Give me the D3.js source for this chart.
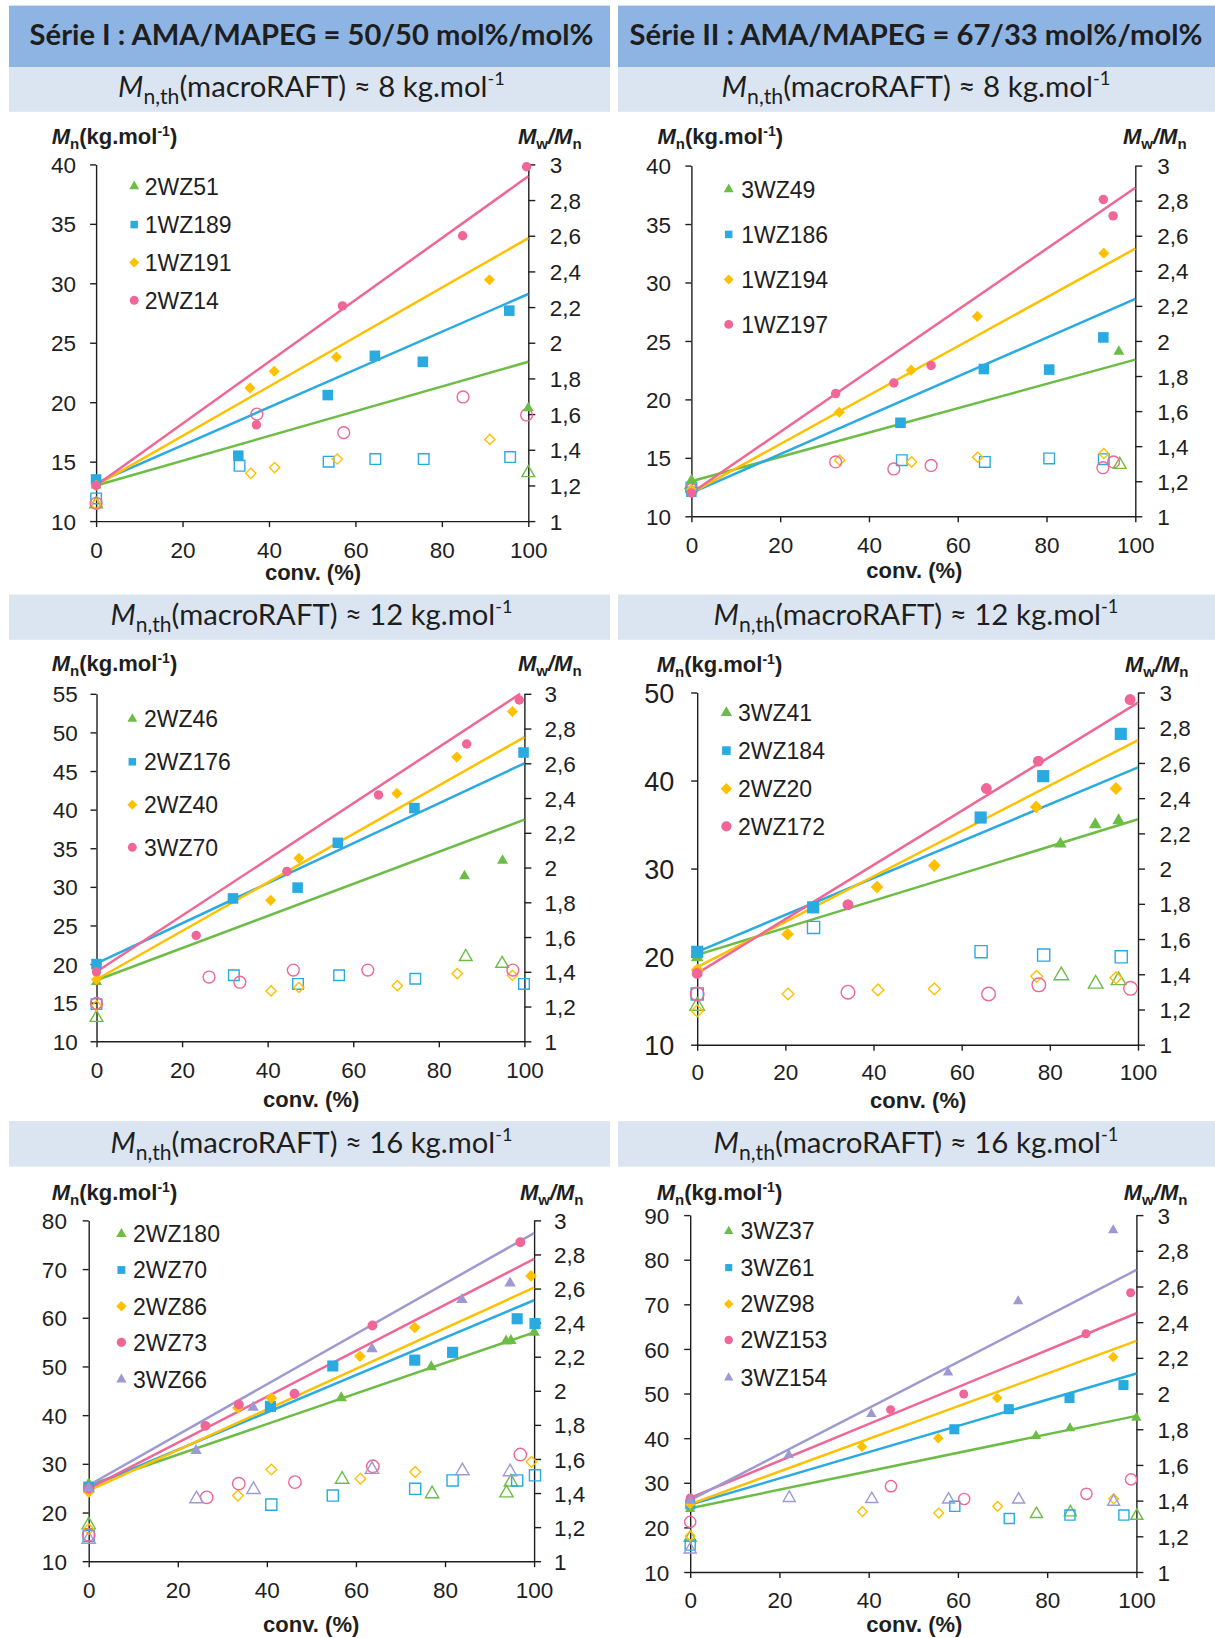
<!DOCTYPE html>
<html><head><meta charset="utf-8">
<script src="https://cdn.jsdelivr.net/npm/d3@7"></script>
<style>body{margin:0;background:#fff}svg{display:block}</style>
</head><body>
<svg id="c" width="1215" height="1638"></svg>
<script>
// ===== DATA =====
const xTicks = [0, 20, 40, 60, 80, 100];
const pdiTicks = [1, 1.2, 1.4, 1.6, 1.8, 2, 2.2, 2.4, 2.6, 2.8, 3];
const seriesHeaders = ["Série I : AMA/MAPEG = 50/50 mol%/mol%", "Série II : AMA/MAPEG = 67/33 mol%/mol%"];
const macroRaftMasses = ["8", "12", "16"];

// Panel A : Série I, 8 kg/mol
const a_2WZ51_Mn = [[0,13.0],[100,19.5]];
const a_2WZ51_D  = [[0,1.095],[100,1.27]];
const a_2WZ51_th = [[0,13.0],[100,23.4]];
const a_1WZ189_Mn = [[0,13.5],[32.9,15.5],[53.6,20.6],[64.5,23.9],[75.6,23.4],[95.6,27.7]];
const a_1WZ189_D  = [[0,1.127],[33.2,1.31],[53.8,1.333],[64.6,1.348],[75.8,1.348],[95.8,1.359]];
const a_1WZ189_th = [[0,13.2],[100,29.1]];
const a_1WZ191_Mn = [[0,13.0],[35.6,21.2],[41.2,22.6],[55.6,23.8],[91.0,30.3]];
const a_1WZ191_D  = [[0,1.095],[35.8,1.268],[41.3,1.30],[55.8,1.348],[91.1,1.458]];
const a_1WZ191_th = [[0,13.0],[100,33.8]];
const a_2WZ14_Mn = [[0,13.0],[37.1,18.1],[57.0,28.1],[84.8,34.0],[99.6,39.8]];
const a_2WZ14_D  = [[0,1.10],[37.2,1.60],[57.3,1.496],[84.9,1.696],[99.6,1.595]];
const a_2WZ14_th = [[0,13.0],[100,39.0]];

// Panel B : Série II, 8 kg/mol
const b_3WZ49_Mn = [[0,13.1],[96.3,24.1]];
const b_3WZ49_D  = [[0,1.18],[96.5,1.294]];
const b_3WZ49_th = [[0,13.0],[100,23.4]];
const b_1WZ186_Mn = [[0,12.1],[47.1,18.0],[65.9,22.6],[80.6,22.55],[92.8,25.3]];
const b_1WZ186_D  = [[0,1.165],[47.4,1.32],[66.1,1.31],[80.6,1.33],[92.9,1.326]];
const b_1WZ186_th = [[0,12.0],[100,28.6]];
const b_1WZ194_Mn = [[0,12.3],[33.3,18.9],[49.5,22.5],[64.4,27.1],[92.9,32.5]];
const b_1WZ194_D  = [[0,1.17],[33.4,1.32],[49.6,1.31],[64.5,1.337],[92.9,1.358]];
const b_1WZ194_th = [[0,12.0],[100,32.9]];
const b_1WZ197_Mn = [[0,12.0],[32.5,20.5],[45.6,21.4],[54.0,22.9],[92.8,37.1],[95.0,35.7]];
const b_1WZ197_D  = [[0,1.155],[32.5,1.31],[45.6,1.27],[54.0,1.29],[92.7,1.277],[95.1,1.31]];
const b_1WZ197_th = [[0,12.0],[100,38.1]];

// Panel C : Série I, 12 kg/mol
const c_2WZ46_Mn = [[0,17.7],[86.0,31.4],[94.9,33.4]];
const c_2WZ46_D  = [[0,1.136],[86.3,1.486],[94.8,1.447]];
const c_2WZ46_th = [[0,17.9],[100,38.7]];
const c_2WZ176_Mn = [[0,20.0],[31.9,28.5],[47.0,29.9],[56.4,35.7],[74.3,40.2],[99.8,47.4]];
const c_2WZ176_D  = [[0,1.214],[32.1,1.38],[47.1,1.33],[56.7,1.38],[74.5,1.36],[99.9,1.33]];
const c_2WZ176_th = [[0,20.1],[100,46.0]];
const c_2WZ40_Mn = [[0,18.0],[40.7,28.25],[47.3,33.7],[70.2,42.1],[84.2,46.8],[97.2,52.7]];
const c_2WZ40_D  = [[0,1.204],[40.8,1.29],[47.3,1.31],[70.3,1.32],[84.3,1.39],[97.2,1.38]];
const c_2WZ40_th = [[0,18.0],[100,49.4]];
const c_3WZ70_Mn = [[0,19.0],[23.3,23.7],[44.5,32.0],[65.9,41.9],[86.5,48.5],[98.8,54.2]];
const c_3WZ70_D  = [[0,1.218],[26.3,1.37],[33.5,1.34],[46.0,1.41],[63.4,1.41],[97.3,1.41]];
const c_3WZ70_th = [[0,19.0],[99,55.0]];

// Panel D : Série II, 12 kg/mol
const d_3WZ41_Mn = [[0,19.9],[82.4,32.8],[90.3,35.0],[95.6,35.45]];
const d_3WZ41_D  = [[0,1.22],[82.6,1.393],[90.4,1.345],[95.6,1.365]];
const d_3WZ41_th = [[0,20.2],[100,35.6]];
const d_2WZ184_Mn = [[0,20.55],[26.3,25.6],[64.3,35.8],[78.5,40.5],[96.1,45.3]];
const d_2WZ184_D  = [[0,1.288],[26.4,1.666],[64.4,1.528],[78.6,1.509],[96.2,1.499]];
const d_2WZ184_th = [[0,20.55],[100,41.5]];
const d_2WZ20_Mn = [[0,18.5],[20.5,22.55],[40.8,27.9],[53.8,30.35],[76.9,37.0],[95.0,39.1]];
const d_2WZ20_D  = [[0,1.192],[20.6,1.288],[41.0,1.311],[53.8,1.317],[77.0,1.388],[95.0,1.38]];
const d_2WZ20_th = [[0,18.8],[100,44.6]];
const d_2WZ172_Mn = [[0,18.1],[34.2,25.9],[65.6,39.1],[77.4,42.2],[98.2,49.2]];
const d_2WZ172_D  = [[0,1.288],[34.2,1.298],[66.1,1.288],[77.5,1.34],[98.3,1.32]];
const d_2WZ172_th = [[0,18.1],[100,48.85]];

// Panel E : Série I, 16 kg/mol
const e_2WZ180_Mn = [[0,25.9],[56.7,43.55],[76.9,49.9],[93.7,55.2],[94.8,55.3],[100,57.0]];
const e_2WZ180_D  = [[0,1.213],[56.9,1.48],[77.1,1.395],[93.8,1.40],[94.8,1.464]];
const e_2WZ180_th = [[0,25.6],[100,57.0]];
const e_2WZ70_Mn = [[0,25.2],[40.8,41.8],[54.8,50.1],[73.2,51.3],[81.7,52.9],[96.2,59.8],[100.2,58.8]];
const e_2WZ70_D  = [[0,1.148],[41.0,1.332],[54.8,1.385],[73.3,1.425],[81.7,1.474],[96.2,1.474],[100.2,1.504]];
const e_2WZ70_th = [[0,25.2],[100,63.6]];
const e_2WZ86_Mn = [[0,24.2],[33.5,41.5],[41.0,43.5],[60.9,52.1],[73.2,58.0],[99.3,68.6]];
const e_2WZ86_D  = [[0,1.188],[33.5,1.385],[41.0,1.538],[61.0,1.484],[73.3,1.524],[99.4,1.583]];
const e_2WZ86_th = [[0,24.5],[100,66.2]];
const e_2WZ73_Mn = [[0,24.9],[26.2,37.8],[33.7,42.2],[46.2,44.4],[63.7,58.4],[96.9,75.5]];
const e_2WZ73_D  = [[0,1.154],[26.5,1.375],[33.7,1.455],[46.3,1.464],[63.8,1.557],[96.9,1.626]];
const e_2WZ73_th = [[0,24.9],[100,72.1]];
const e_3WZ66_Mn = [[0,24.9],[24.1,32.7],[36.9,41.6],[63.6,53.6],[83.8,63.7],[94.6,67.1]];
const e_3WZ66_D  = [[0,1.128],[24.2,1.366],[37.0,1.42],[63.6,1.538],[83.9,1.53],[94.6,1.524]];
const e_3WZ66_th = [[0,25.6],[100,77.4]];

// Panel F : Série II, 16 kg/mol
const f_3WZ37_Mn = [[0,24.1],[77.5,40.5],[85.1,42.2],[100,44.6]];
const f_3WZ37_D  = [[0,1.192],[77.6,1.325],[85.2,1.334],[100.1,1.315]];
const f_3WZ37_th = [[0,24.3],[100,45.0]];
const f_3WZ61_Mn = [[0,25.2],[59.2,42.0],[71.4,46.5],[85.0,49.0],[97.1,51.9]];
const f_3WZ61_D  = [[0,1.151],[59.3,1.368],[71.5,1.30],[85.1,1.319],[97.2,1.319]];
const f_3WZ61_th = [[0,25.1],[100,54.5]];
const f_2WZ98_Mn = [[0,25.2],[38.5,38.1],[55.6,40.0],[68.8,49.0],[94.8,58.2]];
const f_2WZ98_D  = [[0,1.202],[38.6,1.338],[55.7,1.33],[68.9,1.368],[94.9,1.41]];
const f_2WZ98_th = [[0,25.2],[100,61.8]];
const f_2WZ153_Mn = [[0,26.6],[44.9,46.4],[61.3,49.9],[88.7,63.4],[98.7,72.6]];
const f_2WZ153_D  = [[0,1.281],[45.0,1.481],[61.4,1.409],[88.8,1.438],[98.8,1.519]];
const f_2WZ153_th = [[0,26.6],[100,68.0]];
const f_3WZ154_Mn = [[0,26.0],[22.1,36.2],[40.6,45.4],[57.8,54.7],[73.5,70.7],[94.8,86.6]];
const f_3WZ154_D  = [[0,1.126],[22.2,1.415],[40.7,1.409],[57.9,1.406],[73.6,1.406],[94.9,1.394]];
const f_3WZ154_th = [[0,26.1],[100,77.7]];

// Y ranges for Mn axes [min, max, step]
const yA = [10, 40, 5], yB = [10, 40, 5], yC = [10, 55, 5], yD = [10, 50, 10], yE = [10, 80, 10], yF = [10, 90, 10];

// ===== STYLE / LAYOUT =====
const COL = {green:"#6cbd45", blue:"#29abe2", yellow:"#ffc000", pink:"#ef6697", purple:"#9d9ad3"};
const FONT = "'Liberation Sans', Arial, sans-serif";
const HFONT = "Lato, 'Open Sans', sans-serif";
const TXT = "#1e1e1e";

const panels = [
 {ys:yA, L:{x0:96.1,x1:528.3,yt:164.4,yb:521.1, leg:[134.2,144.7,[186.3,224.6,262.6,300.3]], mnX:51.7, lblY:144, mwR:581.6, convX:313, convY:579.5, xlY:557.6, ylEnd:76, yrOff:21.4, yfs:22.5, ms:1},
  series:[
   {n:"2WZ51", c:"green", s:"tri", mn:a_2WZ51_Mn, d:a_2WZ51_D, th:a_2WZ51_th},
   {n:"1WZ189", c:"blue", s:"sq", mn:a_1WZ189_Mn, d:a_1WZ189_D, th:a_1WZ189_th},
   {n:"1WZ191", c:"yellow", s:"dia", mn:a_1WZ191_Mn, d:a_1WZ191_D, th:a_1WZ191_th},
   {n:"2WZ14", c:"pink", s:"cir", mn:a_2WZ14_Mn, d:a_2WZ14_D, th:a_2WZ14_th}]},
 {ys:yB, L:{x0:691.4,x1:1135.3,yt:165.6,yb:516.3, leg:[728.7,741.2,[189.3,234.4,279.6,324.4]], mnX:657.5, lblY:144, mwR:1186.6, convX:914.3, convY:577.6, xlY:553, ylEnd:671, yrOff:22, yfs:22.5, ms:1},
  series:[
   {n:"3WZ49", c:"green", s:"tri", mn:b_3WZ49_Mn, d:b_3WZ49_D, th:b_3WZ49_th},
   {n:"1WZ186", c:"blue", s:"sq", mn:b_1WZ186_Mn, d:b_1WZ186_D, th:b_1WZ186_th},
   {n:"1WZ194", c:"yellow", s:"dia", mn:b_1WZ194_Mn, d:b_1WZ194_D, th:b_1WZ194_th},
   {n:"1WZ197", c:"pink", s:"cir", mn:b_1WZ197_Mn, d:b_1WZ197_D, th:b_1WZ197_th}]},
 {ys:yC, L:{x0:96.5,x1:524.4,yt:693.8,yb:1041.3, leg:[132.3,143.9,[718.9,761.8,804.7,847.3]], mnX:51.7, lblY:671.2, mwR:581.6, convX:311.2, convY:1107.2, xlY:1077.8, ylEnd:77.8, yrOff:20, yfs:22.5, ms:1},
  series:[
   {n:"2WZ46", c:"green", s:"tri", mn:c_2WZ46_Mn, d:c_2WZ46_D, th:c_2WZ46_th},
   {n:"2WZ176", c:"blue", s:"sq", mn:c_2WZ176_Mn, d:c_2WZ176_D, th:c_2WZ176_th},
   {n:"2WZ40", c:"yellow", s:"dia", mn:c_2WZ40_Mn, d:c_2WZ40_D, th:c_2WZ40_th},
   {n:"3WZ70", c:"pink", s:"cir", mn:c_3WZ70_Mn, d:c_3WZ70_D, th:c_3WZ70_th}]},
 {ys:yD, L:{x0:697.2,x1:1138,yt:692.5,yb:1044.7, leg:[726.4,738,[712.8,750.6,788.8,826.3]], mnX:656.7, lblY:672.2, mwR:1188.5, convX:918.2, convY:1108.2, xlY:1080.2, ylEnd:674.2, yrOff:21.4, yfs:27, ms:1.15},
  series:[
   {n:"3WZ41", c:"green", s:"tri", mn:d_3WZ41_Mn, d:d_3WZ41_D, th:d_3WZ41_th},
   {n:"2WZ184", c:"blue", s:"sq", mn:d_2WZ184_Mn, d:d_2WZ184_D, th:d_2WZ184_th},
   {n:"2WZ20", c:"yellow", s:"dia", mn:d_2WZ20_Mn, d:d_2WZ20_D, th:d_2WZ20_th},
   {n:"2WZ172", c:"pink", s:"cir", mn:d_2WZ172_Mn, d:d_2WZ172_D, th:d_2WZ172_th}]},
 {ys:yE, L:{x0:88.7,x1:534.1,yt:1220.4,yb:1561.2, leg:[121.4,133,[1233.9,1270,1306.3,1342.3,1379.4]], mnX:51.7, lblY:1200.2, mwR:583.5, convX:311.2, convY:1631.5, xlY:1598.3, ylEnd:66.9, yrOff:20, yfs:22.5, ms:1.05},
  series:[
   {n:"2WZ180", c:"green", s:"tri", mn:e_2WZ180_Mn, d:e_2WZ180_D, th:e_2WZ180_th},
   {n:"2WZ70", c:"blue", s:"sq", mn:e_2WZ70_Mn, d:e_2WZ70_D, th:e_2WZ70_th},
   {n:"2WZ86", c:"yellow", s:"dia", mn:e_2WZ86_Mn, d:e_2WZ86_D, th:e_2WZ86_th},
   {n:"2WZ73", c:"pink", s:"cir", mn:e_2WZ73_Mn, d:e_2WZ73_D, th:e_2WZ73_th},
   {n:"3WZ66", c:"purple", s:"tri", mn:e_3WZ66_Mn, d:e_3WZ66_D, th:e_3WZ66_th}]},
 {ys:yF, L:{x0:690.2,x1:1136.4,yt:1215.1,yb:1572, leg:[728.7,740.4,[1231.2,1267.6,1304,1340,1377.7]], mnX:656.7, lblY:1200, mwR:1187.4, convX:914.3, convY:1631.5, xlY:1608.4, ylEnd:669.2, yrOff:21, yfs:22.5, ms:0.95},
  series:[
   {n:"3WZ37", c:"green", s:"tri", mn:f_3WZ37_Mn, d:f_3WZ37_D, th:f_3WZ37_th},
   {n:"3WZ61", c:"blue", s:"sq", mn:f_3WZ61_Mn, d:f_3WZ61_D, th:f_3WZ61_th},
   {n:"2WZ98", c:"yellow", s:"dia", mn:f_2WZ98_Mn, d:f_2WZ98_D, th:f_2WZ98_th},
   {n:"2WZ153", c:"pink", s:"cir", mn:f_2WZ153_Mn, d:f_2WZ153_D, th:f_2WZ153_th},
   {n:"3WZ154", c:"purple", s:"tri", mn:f_3WZ154_Mn, d:f_3WZ154_D, th:f_3WZ154_th}]}
];

const svg = d3.select("#c");

// Diamond symbol (square rotated 45°)
const symDiamond = {draw(ctx, size){ const r = Math.sqrt(size/2); ctx.moveTo(0,-r); ctx.lineTo(r,0); ctx.lineTo(0,r); ctx.lineTo(-r,0); ctx.closePath(); }};
const symType = {tri: d3.symbolTriangle, sq: d3.symbolSquare, dia: symDiamond, cir: d3.symbolCircle};
const filledSize = {tri: 52, sq: 112, dia: 62, cir: 70};
const hollowSize = {tri: 70, sq: 112, dia: 52, cir: 110};
const legendSize = {tri: 42, sq: 56, dia: 50, cir: 62};

function fitText(sel, w){
  const bw = sel.node().getBBox().width;
  const fs = parseFloat(sel.attr("font-size"));
  sel.attr("font-size", fs * w / bw);
}

// ===== HEADERS =====
const colBox = [[9, 601, 311.5, 564], [618, 597, 916, 573]];
seriesHeaders.forEach((t, i) => {
  const [bx, bw, cx, tw] = colBox[i];
  svg.append("rect").attr("x", bx).attr("y", 5.6).attr("width", bw).attr("height", 61.4).attr("fill", "#8eb4e3");
  const tx = svg.append("text").attr("x", cx).attr("y", 45).attr("text-anchor", "middle")
    .attr("font-family", HFONT).attr("font-weight", 700).attr("font-size", 30).attr("fill", TXT).text(t);
  fitText(tx, tw);
});
const subRows = [[67, 44.8, 97, [387, 389]], [594.5, 45.3, 624.5, [402, 405]], [1121.1, 45.5, 1152.5, [402, 405]]];
macroRaftMasses.forEach((m, r) => {
  const [by, bh, base, widths] = subRows[r];
  colBox.forEach(([bx, bw, cx], ci) => {
    svg.append("rect").attr("x", bx).attr("y", by).attr("width", bw).attr("height", bh).attr("fill", "#dbe5f1");
    const t = svg.append("text").attr("x", cx).attr("y", base).attr("text-anchor", "middle")
      .attr("font-family", HFONT).attr("font-size", 28).attr("fill", TXT);
    t.append("tspan").attr("font-style", "italic").text("M");
    t.append("tspan").attr("font-size", "0.72em").attr("dy", "0.35em").text("n,th");
    t.append("tspan").attr("dy", "-0.25em").text(`(macroRAFT) ≈ ${m} kg.mol`);
    t.append("tspan").attr("font-size", "0.62em").attr("dy", "-0.65em").text("-1");
    fitText(t, widths[ci]);
  });
});

// ===== PANELS =====
const fmtPdi = d => (Math.abs(d - Math.round(d)) < 1e-9 ? String(Math.round(d)) : d.toFixed(1).replace(".", ","));

panels.forEach(p => {
  const L = p.L;
  const [ymin, ymax, ystep] = p.ys;
  const x = d3.scaleLinear().domain([0, 100]).range([L.x0, L.x1]);
  const y = d3.scaleLinear().domain([ymin, ymax]).range([L.yb, L.yt]);
  const y2 = d3.scaleLinear().domain([1, 3]).range([L.yb, L.yt]);
  const g = svg.append("g");

  const styleAxis = a => {
    a.select(".domain").attr("stroke", TXT).attr("stroke-width", 1.4);
    a.selectAll(".tick line").attr("stroke", TXT).attr("stroke-width", 1.4);
    a.selectAll("text").attr("font-family", FONT).attr("fill", TXT);
  };
  const gx = g.append("g").attr("transform", `translate(0,${L.yb})`)
    .call(d3.axisBottom(x).tickValues(xTicks).tickSize(6).tickSizeOuter(0).tickFormat(d3.format("d")));
  styleAxis(gx);
  gx.selectAll("text").attr("font-size", 22.5).attr("y", L.xlY - L.yb).attr("dy", 0);

  const gy = g.append("g").attr("transform", `translate(${L.x0},0)`)
    .call(d3.axisLeft(y).tickValues(d3.range(ymin, ymax + 0.001, ystep)).tickSize(6).tickSizeOuter(0));
  styleAxis(gy);
  gy.selectAll("text").attr("font-size", L.yfs).attr("x", L.ylEnd - L.x0).attr("dy", "0.36em");

  const gy2 = g.append("g").attr("transform", `translate(${L.x1},0)`)
    .call(d3.axisRight(y2).tickValues(pdiTicks).tickSize(7).tickSizeOuter(0).tickFormat(fmtPdi));
  styleAxis(gy2);
  gy2.selectAll("text").attr("font-size", 22.5).attr("x", L.yrOff).attr("dy", "0.36em");

  // axis titles
  const t1 = g.append("text").attr("x", L.mnX).attr("y", L.lblY).attr("font-family", FONT)
    .attr("font-weight", 700).attr("font-size", 22).attr("fill", TXT);
  t1.append("tspan").attr("font-style", "italic").text("M");
  t1.append("tspan").attr("font-size", 15).attr("dy", 5).text("n");
  t1.append("tspan").attr("dy", -5).text("(kg.mol");
  t1.append("tspan").attr("font-size", 14).attr("dy", -8).text("-1");
  t1.append("tspan").attr("dy", 8).text(")");

  const t2 = g.append("text").attr("x", L.mwR).attr("y", L.lblY).attr("text-anchor", "end").attr("font-family", FONT)
    .attr("font-weight", 700).attr("font-size", 22).attr("fill", TXT);
  t2.append("tspan").attr("font-style", "italic").text("M");
  t2.append("tspan").attr("font-size", 15).attr("dy", 5).text("w");
  t2.append("tspan").attr("dy", -5).attr("font-style", "italic").text("/M");
  t2.append("tspan").attr("font-size", 15).attr("dy", 5).text("n");

  g.append("text").attr("x", L.convX).attr("y", L.convY).attr("text-anchor", "middle").attr("font-family", FONT)
    .attr("font-weight", 700).attr("font-size", 22).attr("fill", TXT).text("conv. (%)");

  // theoretical lines
  const line = d3.line().x(d => x(d[0])).y(d => y(d[1]));
  p.series.forEach(s => {
    g.append("path").datum(s.th).attr("d", line).attr("fill", "none")
      .attr("stroke", COL[s.c]).attr("stroke-width", 2.5);
  });

  // hollow markers (Mw/Mn, right axis)
  p.series.forEach(s => {
    const sym = d3.symbol().type(symType[s.s]).size(hollowSize[s.s] * L.ms * L.ms);
    g.selectAll(null).data(s.d).join("path")
      .attr("transform", d => `translate(${x(d[0])},${y2(d[1])})`)
      .attr("d", sym).attr("fill", "none").attr("stroke", COL[s.c]).attr("stroke-width", 1.4);
  });
  // filled markers (Mn, left axis)
  p.series.forEach(s => {
    const sym = d3.symbol().type(symType[s.s]).size(filledSize[s.s] * L.ms * L.ms);
    g.selectAll(null).data(s.mn).join("path")
      .attr("transform", d => `translate(${x(d[0])},${y(d[1])})`)
      .attr("d", sym).attr("fill", COL[s.c]);
  });

  // legend
  const [mx, lx, rows] = L.leg;
  p.series.forEach((s, i) => {
    const sym = d3.symbol().type(symType[s.s]).size(legendSize[s.s] * L.ms * L.ms);
    g.append("path").attr("transform", `translate(${mx},${rows[i]})`).attr("d", sym).attr("fill", COL[s.c]);
    g.append("text").attr("x", lx).attr("y", rows[i] + 8.2).attr("font-family", FONT).attr("font-size", 23)
      .attr("fill", TXT).text(s.n);
  });
});
</script>
</body></html>
